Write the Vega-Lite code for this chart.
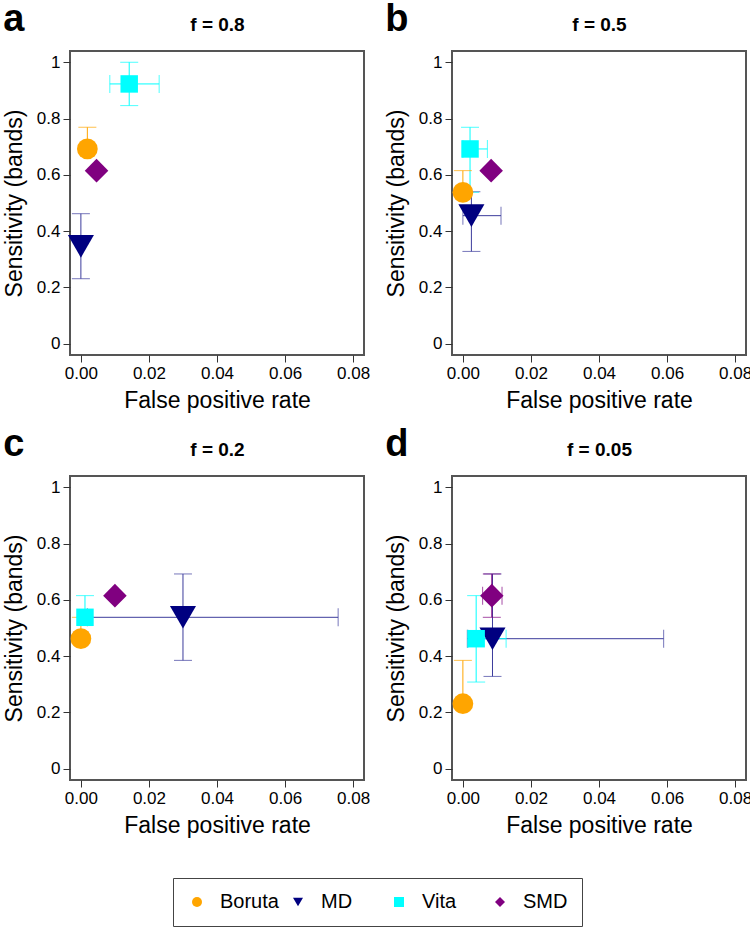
{
  "$schema": "https://vega.github.io/schema/vega-lite/v6.json",
  "padding": {"left": 2, "top": 0, "right": 0, "bottom": 0},
  "background": "white",
  "data": {"values": [
    {"panel":"a","method":"Boruta","fpr":0.0019,"sens":0.692,"fpr_lo":null,"fpr_hi":null,"sens_lo":0.692,"sens_hi":0.769},
    {"panel":"a","method":"MD","fpr":0.0,"sens":0.346,"fpr_lo":null,"fpr_hi":null,"sens_lo":0.231,"sens_hi":0.462},
    {"panel":"a","method":"Vita","fpr":0.0142,"sens":0.923,"fpr_lo":0.0085,"fpr_hi":0.023,"sens_lo":0.846,"sens_hi":1.0},
    {"panel":"a","method":"SMD","fpr":0.0046,"sens":0.615,"fpr_lo":null,"fpr_hi":null,"sens_lo":null,"sens_hi":null},
    {"panel":"b","method":"Boruta","fpr":0.0,"sens":0.538,"fpr_lo":null,"fpr_hi":null,"sens_lo":0.538,"sens_hi":0.615},
    {"panel":"b","method":"MD","fpr":0.0025,"sens":0.455,"fpr_lo":0.0,"fpr_hi":0.0112,"sens_lo":0.328,"sens_hi":0.54},
    {"panel":"b","method":"Vita","fpr":0.0021,"sens":0.692,"fpr_lo":0.0,"fpr_hi":0.0072,"sens_lo":0.538,"sens_hi":0.769},
    {"panel":"b","method":"SMD","fpr":0.0083,"sens":0.615,"fpr_lo":null,"fpr_hi":null,"sens_lo":null,"sens_hi":null},
    {"panel":"c","method":"Boruta","fpr":0.0,"sens":0.462,"fpr_lo":null,"fpr_hi":null,"sens_lo":0.462,"sens_hi":0.538},
    {"panel":"c","method":"MD","fpr":0.030,"sens":0.538,"fpr_lo":0.0019,"fpr_hi":0.0756,"sens_lo":0.385,"sens_hi":0.692},
    {"panel":"c","method":"Vita","fpr":0.0012,"sens":0.538,"fpr_lo":null,"fpr_hi":null,"sens_lo":0.538,"sens_hi":0.615},
    {"panel":"c","method":"SMD","fpr":0.010,"sens":0.615,"fpr_lo":null,"fpr_hi":null,"sens_lo":null,"sens_hi":null},
    {"panel":"d","method":"Boruta","fpr":0.0,"sens":0.231,"fpr_lo":null,"fpr_hi":null,"sens_lo":0.231,"sens_hi":0.385},
    {"panel":"d","method":"MD","fpr":0.0087,"sens":0.462,"fpr_lo":0.0013,"fpr_hi":0.059,"sens_lo":0.328,"sens_hi":0.692},
    {"panel":"d","method":"Vita","fpr":0.0039,"sens":0.462,"fpr_lo":0.0015,"fpr_hi":0.0127,"sens_lo":0.308,"sens_hi":0.615},
    {"panel":"d","method":"SMD","fpr":0.0085,"sens":0.615,"fpr_lo":0.0058,"fpr_hi":0.0115,"sens_lo":0.538,"sens_hi":0.692}
  ]},
  "resolve": {"legend": {"color": "shared", "shape": "shared"}},
  "vconcat": [
    {"hconcat": [
      {
        "width": 294, "height": 304,
        "title": {"text": "a", "anchor": "start", "frame": "bounds", "fontSize": 38, "fontWeight": "bold", "baseline": "alphabetic", "offset": -54, "color": "black"},
        "transform": [{"filter": "datum.panel == 'a'"}],
        "resolve": {"axis": {"x": "independent"}},
        "layer": [
          {"transform": [{"filter": "datum.sens_lo != null"}],
           "mark": {"type": "rule", "strokeWidth": 1},
           "encoding": {
             "x": {"field": "fpr", "type": "quantitative", "scale": {"domain": [-0.0032, 0.0832], "nice": false, "zero": false}, "axis": {"values": [0, 0.02, 0.04, 0.06, 0.08], "format": ".2f", "title": "False positive rate", "titlePadding": 8}},
             "y": {"field": "sens_lo", "type": "quantitative", "scale": {"domain": [-0.04, 1.04], "nice": false, "zero": false}, "axis": {"values": [0, 0.2, 0.4, 0.6, 0.8, 1], "format": "~g", "title": "Sensitivity (bands)", "titlePadding": 10}},
             "y2": {"field": "sens_hi"},
             "stroke": {"field": "method", "type": "nominal", "scale": {"domain": ["MD","Boruta","Vita","SMD"], "range": ["#3c3c9c","#FFA500","#00FFFF","#800080"]}, "legend": null}
           }},
          {"transform": [{"filter": "datum.fpr_lo != null"}],
           "mark": {"type": "rule", "strokeWidth": 1},
           "encoding": {
             "x": {"field": "fpr_lo", "type": "quantitative", "axis": null},
             "x2": {"field": "fpr_hi"},
             "y": {"field": "sens", "type": "quantitative", "title": "Sensitivity (bands)"},
             "stroke": {"field": "method", "type": "nominal", "legend": null}
           }},
          {"transform": [{"fold": ["sens_lo", "sens_hi"], "as": ["k", "sv"]}, {"filter": "datum.sv != null"}],
           "mark": {"type": "tick", "orient": "horizontal", "size": 18, "thickness": 1},
           "encoding": {
             "x": {"field": "fpr", "type": "quantitative", "axis": null},
             "y": {"field": "sv", "type": "quantitative", "title": "Sensitivity (bands)"},
             "fill": {"field": "method", "type": "nominal", "scale": {"domain": ["MD","Boruta","Vita","SMD"], "range": ["#3c3c9c","#FFA500","#00FFFF","#800080"]}, "legend": null}
           }},
          {"transform": [{"fold": ["fpr_lo", "fpr_hi"], "as": ["k2", "fv"]}, {"filter": "datum.fv != null"}],
           "mark": {"type": "tick", "orient": "vertical", "size": 18, "thickness": 1},
           "encoding": {
             "x": {"field": "fv", "type": "quantitative", "axis": null},
             "y": {"field": "sens", "type": "quantitative", "title": "Sensitivity (bands)"},
             "fill": {"field": "method", "type": "nominal", "legend": null}
           }},
          {"mark": {"type": "point", "filled": true, "opacity": 1},
           "encoding": {
             "x": {"field": "fpr", "type": "quantitative", "axis": {"orient": "top", "title": "f = 0.8", "labels": false, "ticks": false, "domain": false, "titleFontWeight": "bold", "titleFontSize": 19, "titlePadding": 17}},
             "y": {"field": "sens", "type": "quantitative", "title": "Sensitivity (bands)"},
             "color": {"field": "method", "type": "nominal", "scale": {"domain": ["Boruta","MD","Vita","SMD"], "range": ["#FFA500","#000080","#00FFFF","#800080"]},
               "legend": {"title": null, "orient": "bottom", "offset": 40, "direction": "horizontal", "columns": 4, "gridAlign": "all", "columnPadding": 9, "labelOffset": 13, "labelFontSize": 20, "labelColor": "black", "symbolSize": 100, "padding": 14, "strokeColor": "#444"}},
             "shape": {"field": "method", "type": "nominal", "scale": {"domain": ["Boruta","MD","Vita","SMD"], "range": ["circle","triangle-down","square","diamond"]}},
             "size": {"field": "method", "type": "nominal", "scale": {"type": "point", "domain": ["Vita","Boruta","SMD","MD"], "range": [305, 680]}, "legend": null}
           }}
        ]
      },
      {
        "width": 294, "height": 304,
        "title": {"text": "b", "anchor": "start", "frame": "bounds", "fontSize": 38, "fontWeight": "bold", "baseline": "alphabetic", "offset": -54, "color": "black"},
        "transform": [{"filter": "datum.panel == 'b'"}],
        "resolve": {"axis": {"x": "independent"}},
        "layer": [
          {"transform": [{"filter": "datum.sens_lo != null"}],
           "mark": {"type": "rule", "strokeWidth": 1},
           "encoding": {
             "x": {"field": "fpr", "type": "quantitative", "scale": {"domain": [-0.0032, 0.0832], "nice": false, "zero": false}, "axis": {"values": [0, 0.02, 0.04, 0.06, 0.08], "format": ".2f", "title": "False positive rate", "titlePadding": 8}},
             "y": {"field": "sens_lo", "type": "quantitative", "scale": {"domain": [-0.04, 1.04], "nice": false, "zero": false}, "axis": {"values": [0, 0.2, 0.4, 0.6, 0.8, 1], "format": "~g", "title": "Sensitivity (bands)", "titlePadding": 10}},
             "y2": {"field": "sens_hi"},
             "stroke": {"field": "method", "type": "nominal", "legend": null}
           }},
          {"transform": [{"filter": "datum.fpr_lo != null"}],
           "mark": {"type": "rule", "strokeWidth": 1},
           "encoding": {
             "x": {"field": "fpr_lo", "type": "quantitative", "axis": null},
             "x2": {"field": "fpr_hi"},
             "y": {"field": "sens", "type": "quantitative", "title": "Sensitivity (bands)"},
             "stroke": {"field": "method", "type": "nominal", "legend": null}
           }},
          {"transform": [{"fold": ["sens_lo", "sens_hi"], "as": ["k", "sv"]}, {"filter": "datum.sv != null"}],
           "mark": {"type": "tick", "orient": "horizontal", "size": 18, "thickness": 1},
           "encoding": {
             "x": {"field": "fpr", "type": "quantitative", "axis": null},
             "y": {"field": "sv", "type": "quantitative", "title": "Sensitivity (bands)"},
             "fill": {"field": "method", "type": "nominal", "legend": null}
           }},
          {"transform": [{"fold": ["fpr_lo", "fpr_hi"], "as": ["k2", "fv"]}, {"filter": "datum.fv != null"}],
           "mark": {"type": "tick", "orient": "vertical", "size": 18, "thickness": 1},
           "encoding": {
             "x": {"field": "fv", "type": "quantitative", "axis": null},
             "y": {"field": "sens", "type": "quantitative", "title": "Sensitivity (bands)"},
             "fill": {"field": "method", "type": "nominal", "legend": null}
           }},
          {"mark": {"type": "point", "filled": true, "opacity": 1},
           "encoding": {
             "x": {"field": "fpr", "type": "quantitative", "axis": {"orient": "top", "title": "f = 0.5", "labels": false, "ticks": false, "domain": false, "titleFontWeight": "bold", "titleFontSize": 19, "titlePadding": 17}},
             "y": {"field": "sens", "type": "quantitative", "title": "Sensitivity (bands)"},
             "color": {"field": "method", "type": "nominal"},
             "shape": {"field": "method", "type": "nominal"},
             "size": {"field": "method", "type": "nominal", "legend": null}
           }}
        ]
      }
    ]},
    {"hconcat": [
      {
        "width": 294, "height": 304,
        "title": {"text": "c", "anchor": "start", "frame": "bounds", "fontSize": 38, "fontWeight": "bold", "baseline": "alphabetic", "offset": -54, "color": "black"},
        "transform": [{"filter": "datum.panel == 'c'"}],
        "resolve": {"axis": {"x": "independent"}},
        "layer": [
          {"transform": [{"filter": "datum.sens_lo != null"}],
           "mark": {"type": "rule", "strokeWidth": 1},
           "encoding": {
             "x": {"field": "fpr", "type": "quantitative", "scale": {"domain": [-0.0032, 0.0832], "nice": false, "zero": false}, "axis": {"values": [0, 0.02, 0.04, 0.06, 0.08], "format": ".2f", "title": "False positive rate", "titlePadding": 8}},
             "y": {"field": "sens_lo", "type": "quantitative", "scale": {"domain": [-0.04, 1.04], "nice": false, "zero": false}, "axis": {"values": [0, 0.2, 0.4, 0.6, 0.8, 1], "format": "~g", "title": "Sensitivity (bands)", "titlePadding": 10}},
             "y2": {"field": "sens_hi"},
             "stroke": {"field": "method", "type": "nominal", "legend": null}
           }},
          {"transform": [{"filter": "datum.fpr_lo != null"}],
           "mark": {"type": "rule", "strokeWidth": 1},
           "encoding": {
             "x": {"field": "fpr_lo", "type": "quantitative", "axis": null},
             "x2": {"field": "fpr_hi"},
             "y": {"field": "sens", "type": "quantitative", "title": "Sensitivity (bands)"},
             "stroke": {"field": "method", "type": "nominal", "legend": null}
           }},
          {"transform": [{"fold": ["sens_lo", "sens_hi"], "as": ["k", "sv"]}, {"filter": "datum.sv != null"}],
           "mark": {"type": "tick", "orient": "horizontal", "size": 18, "thickness": 1},
           "encoding": {
             "x": {"field": "fpr", "type": "quantitative", "axis": null},
             "y": {"field": "sv", "type": "quantitative", "title": "Sensitivity (bands)"},
             "fill": {"field": "method", "type": "nominal", "legend": null}
           }},
          {"transform": [{"fold": ["fpr_lo", "fpr_hi"], "as": ["k2", "fv"]}, {"filter": "datum.fv != null"}],
           "mark": {"type": "tick", "orient": "vertical", "size": 18, "thickness": 1},
           "encoding": {
             "x": {"field": "fv", "type": "quantitative", "axis": null},
             "y": {"field": "sens", "type": "quantitative", "title": "Sensitivity (bands)"},
             "fill": {"field": "method", "type": "nominal", "legend": null}
           }},
          {"mark": {"type": "point", "filled": true, "opacity": 1},
           "encoding": {
             "x": {"field": "fpr", "type": "quantitative", "axis": {"orient": "top", "title": "f = 0.2", "labels": false, "ticks": false, "domain": false, "titleFontWeight": "bold", "titleFontSize": 19, "titlePadding": 17}},
             "y": {"field": "sens", "type": "quantitative", "title": "Sensitivity (bands)"},
             "color": {"field": "method", "type": "nominal"},
             "shape": {"field": "method", "type": "nominal"},
             "size": {"field": "method", "type": "nominal", "legend": null}
           }}
        ]
      },
      {
        "width": 294, "height": 304,
        "title": {"text": "d", "anchor": "start", "frame": "bounds", "fontSize": 38, "fontWeight": "bold", "baseline": "alphabetic", "offset": -54, "color": "black"},
        "transform": [{"filter": "datum.panel == 'd'"}],
        "resolve": {"axis": {"x": "independent"}},
        "layer": [
          {"transform": [{"filter": "datum.sens_lo != null"}],
           "mark": {"type": "rule", "strokeWidth": 1},
           "encoding": {
             "x": {"field": "fpr", "type": "quantitative", "scale": {"domain": [-0.0032, 0.0832], "nice": false, "zero": false}, "axis": {"values": [0, 0.02, 0.04, 0.06, 0.08], "format": ".2f", "title": "False positive rate", "titlePadding": 8}},
             "y": {"field": "sens_lo", "type": "quantitative", "scale": {"domain": [-0.04, 1.04], "nice": false, "zero": false}, "axis": {"values": [0, 0.2, 0.4, 0.6, 0.8, 1], "format": "~g", "title": "Sensitivity (bands)", "titlePadding": 10}},
             "y2": {"field": "sens_hi"},
             "stroke": {"field": "method", "type": "nominal", "legend": null}
           }},
          {"transform": [{"filter": "datum.fpr_lo != null"}],
           "mark": {"type": "rule", "strokeWidth": 1},
           "encoding": {
             "x": {"field": "fpr_lo", "type": "quantitative", "axis": null},
             "x2": {"field": "fpr_hi"},
             "y": {"field": "sens", "type": "quantitative", "title": "Sensitivity (bands)"},
             "stroke": {"field": "method", "type": "nominal", "legend": null}
           }},
          {"transform": [{"fold": ["sens_lo", "sens_hi"], "as": ["k", "sv"]}, {"filter": "datum.sv != null"}],
           "mark": {"type": "tick", "orient": "horizontal", "size": 18, "thickness": 1},
           "encoding": {
             "x": {"field": "fpr", "type": "quantitative", "axis": null},
             "y": {"field": "sv", "type": "quantitative", "title": "Sensitivity (bands)"},
             "fill": {"field": "method", "type": "nominal", "legend": null}
           }},
          {"transform": [{"fold": ["fpr_lo", "fpr_hi"], "as": ["k2", "fv"]}, {"filter": "datum.fv != null"}],
           "mark": {"type": "tick", "orient": "vertical", "size": 18, "thickness": 1},
           "encoding": {
             "x": {"field": "fv", "type": "quantitative", "axis": null},
             "y": {"field": "sens", "type": "quantitative", "title": "Sensitivity (bands)"},
             "fill": {"field": "method", "type": "nominal", "legend": null}
           }},
          {"mark": {"type": "point", "filled": true, "opacity": 1},
           "encoding": {
             "x": {"field": "fpr", "type": "quantitative", "axis": {"orient": "top", "title": "f = 0.05", "labels": false, "ticks": false, "domain": false, "titleFontWeight": "bold", "titleFontSize": 19, "titlePadding": 17}},
             "y": {"field": "sens", "type": "quantitative", "title": "Sensitivity (bands)"},
             "color": {"field": "method", "type": "nominal"},
             "shape": {"field": "method", "type": "nominal"},
             "size": {"field": "method", "type": "nominal", "legend": null}
           }}
        ]
      }
    ]}
  ],
  "spacing": 12,
  "config": {
    "font": "Liberation Sans",
    "concat": {"spacing": 13},
    "view": {"stroke": "#555555", "strokeWidth": 2},
    "axis": {"labelFont": "Liberation Sans", "labelFontSize": 17, "labelColor": "black", "titleFont": "Liberation Sans", "titleFontSize": 23, "titleFontWeight": "normal", "titleColor": "black", "tickColor": "#333", "tickSize": 7, "domain": false, "grid": false, "labelPadding": 3, "labelFlush": false},
    "legend": {"labelFont": "Liberation Sans", "symbolStrokeWidth": 0, "layout": {"bottom": {"anchor": "middle"}}},
    "title": {"font": "Liberation Sans"}
  }
}
